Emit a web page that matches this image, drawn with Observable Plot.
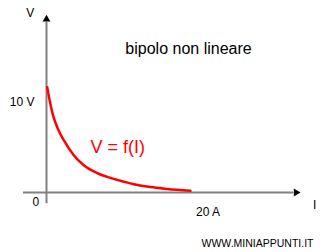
<!DOCTYPE html>
<html>
<head>
<meta charset="utf-8">
<script src="https://cdn.jsdelivr.net/npm/d3@7"></script>
<script src="https://cdn.jsdelivr.net/npm/@observablehq/plot@0.6"></script>
<style>
  html, body { margin: 0; padding: 0; background: #fff; }
  svg { display: block; }
</style>
</head>
<body>
<div id="chart"></div>
<script>
// Curve V = f(I) of the non-linear bipole
const current = [0.09, 0.4, 0.85, 1.45, 2.15, 3.39, 4.63, 6.30, 7.74, 8.78, 10.84, 12.92, 14.99, 17.89];
const voltage = [11.70, 10.2, 8.45, 7.0, 5.81, 4.13, 3.02, 2.16, 1.68, 1.40, 0.92, 0.60, 0.40, 0.19];

// Tick labels
const xTickValues = [20];
const xTickLabels = ["20 A"];
const yTickValues = [10];
const yTickLabels = ["10 V"];

// Texts
const title = "bipolo non lineare";
const curveLabel = "V = f(I)";
const xAxisName = "I";
const yAxisName = "V";
const originLabel = "0";
const credit = "WWW.MINIAPPUNTI.IT";

// Axis extents (data units)
const xAxisExtent = [-2.86, 30.7];
const yAxisExtent = [-1.25, 18.9];
const xArrowTip = 31.0;
const yArrowTip = 19.25;

const curve = current.map((I, i) => ({I, V: voltage[i]}));
const font = "Liberation Sans, Arial, Helvetica, sans-serif";
const axisColor = "#808080";

const chart = Plot.plot({
  width: 326,
  height: 252,
  margin: 0,
  style: {fontFamily: font, background: "#fff", color: "#000"},
  x: {domain: [0, 20], range: [46, 207], axis: null},
  y: {domain: [0, 10], range: [192, 102], axis: null},
  marks: [
    // axes
    Plot.ruleY([0], {x1: xAxisExtent[0], x2: xAxisExtent[1], stroke: axisColor, strokeWidth: 2}),
    Plot.ruleX([0], {y1: yAxisExtent[0], y2: yAxisExtent[1], stroke: axisColor, strokeWidth: 2}),
    // arrow heads
    Plot.dot([{x: xArrowTip, y: 0}], {x: "x", y: "y", symbol: "triangle", r: 2.9, fill: "#000", stroke: "none", rotate: 90}),
    Plot.dot([{x: 0, y: yArrowTip}], {x: "x", y: "y", symbol: "triangle", r: 2.9, fill: "#000", stroke: "none"}),
    // curve
    Plot.line(curve, {x: "I", y: "V", stroke: "#ff0000", strokeWidth: 2.5, curve: "monotone-x"}),
    // tick labels
    Plot.text(yTickValues, {x: 0, y: d => d, text: (d, i) => yTickLabels[i], textAnchor: "end", dx: -12, lineAnchor: "middle", fontSize: 12, fill: "#000"}),
    Plot.text(xTickValues, {x: d => d, y: 0, text: (d, i) => xTickLabels[i], textAnchor: "middle", dx: 0.5, lineAnchor: "top", dy: 14.5, fontSize: 12, fill: "#000"}),
    Plot.text([originLabel], {x: 0, y: 0, text: d => d, textAnchor: "middle", dx: -10.7, lineAnchor: "top", dy: 5.2, fontSize: 12, fill: "#000"}),
    // axis names
    Plot.text([yAxisName], {x: 0, y: yArrowTip, text: d => d, textAnchor: "middle", dx: -16.3, dy: -6.5, lineAnchor: "middle", fontSize: 12, fill: "#000"}),
    Plot.text([xAxisName], {x: xArrowTip, y: 0, text: d => d, textAnchor: "middle", dx: 18.7, lineAnchor: "top", dy: 8, fontSize: 12, fill: "#000"}),
    // title & curve label
    Plot.text([title], {x: 17.64, y: 15.42, text: d => d, textAnchor: "middle", lineAnchor: "bottom", fontSize: 16, fill: "#000"}),
    Plot.text([curveLabel], {x: 5.47, y: 4.44, text: d => d, textAnchor: "start", lineAnchor: "bottom", fontSize: 18, fill: "#ff0000"}),
    // credit
    Plot.text([credit], {frameAnchor: "bottom-right", text: d => d, textAnchor: "end", lineAnchor: "bottom", dx: -13, dy: -5.5, fontSize: 10.5, fill: "#000"})
  ]
});
document.getElementById("chart").appendChild(chart);
</script>
</body>
</html>
